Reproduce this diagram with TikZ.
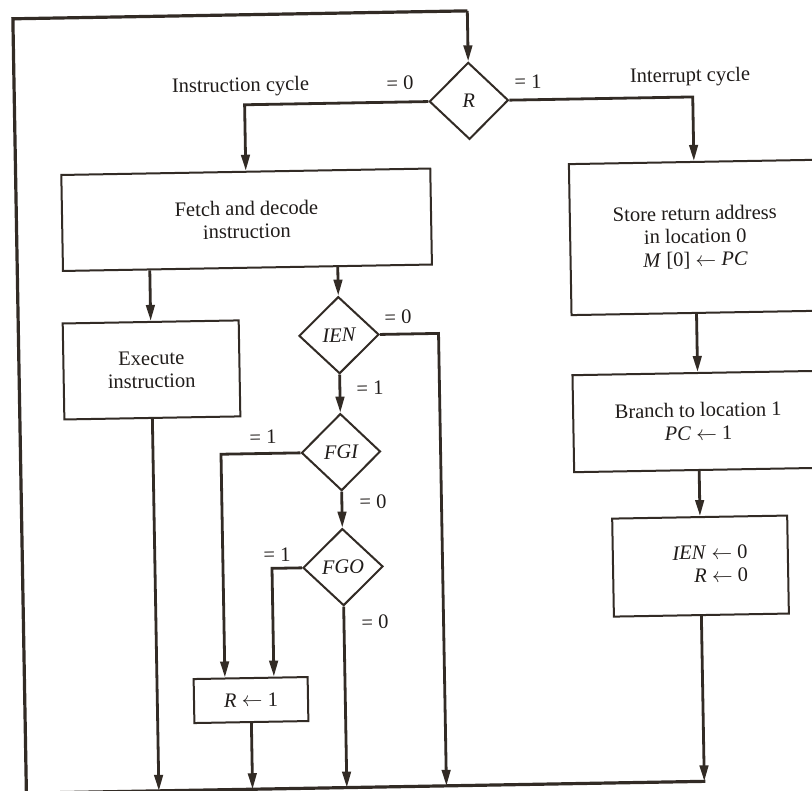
\documentclass[tikz,border=0pt]{standalone}
\usepackage{fontspec}
\setmainfont{Liberation Serif}
\usetikzlibrary{arrows.meta,shapes.geometric,calc}
\definecolor{ink}{RGB}{50,43,37}
\definecolor{txt}{RGB}{32,28,26}
\newcommand{\getsarrow}{\ensuremath{\leftarrow}}

\begin{document}
\begin{tikzpicture}[x=1pt,y=-1pt,
  font=\fontsize{20.5}{23}\selectfont,
  box/.style={draw=ink,line width=2pt,rectangle,inner sep=0pt,text=txt,align=center},
  test/.style={draw=ink,line width=2pt,diamond,inner sep=0pt,
    minimum width=79pt,minimum height=77pt,text=txt,font=\fontsize{20.5}{23}\selectfont\itshape},
  flow/.style={draw=ink,line width=2.8pt,-{Triangle[length=16pt,width=8.5pt]}},
  wire/.style={draw=ink,line width=3.2pt},
  lbl/.style={text=txt,inner sep=0pt}]

% page area
\fill[white] (0,0) rectangle (812,791);
\useasboundingbox (0,0) rectangle (812,791);

\begin{scope}[rotate around={1:(406,395)},transform shape]

% decision and process blocks
\node[test] (R)   at (474,102) {R};
\node[box,minimum width=369pt,minimum height=96pt] (fetch) at (249.7,217)
  {Fetch and decode\\instruction};
\node[box,minimum width=176pt,minimum height=96pt] (exec) at (152,365.5)
  {Execute\\instruction};
\node[test,minimum width=80pt] (ien) at (340,334) {IEN};
\node[test] (fgi) at (340,451) {FGI};
\node[test,minimum width=80pt] (fgo) at (340,566) {FGO};
\node[box,minimum width=114pt,minimum height=44pt] (rset) at (245.7,697.3)
  {\textit{R} \getsarrow\ 1};
\node[box,minimum width=250pt,minimum height=151pt] (store) at (697.9,242.5)
  {Store return address\\in location 0\\\textit{M} [0] \getsarrow\ \textit{PC}};
\node[box,minimum width=250pt,minimum height=97pt] (branch) at (697.8,426.6)
  {Branch to location 1\\\textit{PC} \getsarrow\ 1};
\node[box,minimum width=175pt,minimum height=98pt] (clear) at (697.5,571.2) {};
\node[lbl,align=right,anchor=east] (cleartext) at (745,569.5)
  {\textit{IEN} \getsarrow\ 0\\\textit{R} \getsarrow\ 0};

% corners of the return loop
\coordinate (tl) at (19.5,12);
\coordinate (tr) at (474,12);
\coordinate (bl) at (19.5,786.5);
\coordinate (br) at (698.6,786.5);
\coordinate (ienexit) at (439.6,786.5);

% return loop back to the R test
\draw[wire] (br) -- (bl) -- (tl) -- (tr);
\draw[flow] (tr) -- (R.north);

% R = 0 / R = 1 branches
\draw[flow] (R.west) -| (fetch.north);
\draw[flow] (R.east) -| (store.north);

% instruction cycle
\draw[flow] (exec.north |- fetch.south) -- (exec.north);
\draw[flow] (ien.north |- fetch.south) -- (ien.north);
\draw[flow] (exec.south) -- (exec.south |- bl);
\draw[flow] (ien.east) -| (ienexit);
\draw[flow] (ien.south) -- (fgi.north);
\draw[flow] (fgi.west) -| ($(rset.north west)+(32.3,0)$);
\draw[flow] (fgi.south) -- (fgo.north);
\draw[flow] (fgo.west) -| ($(rset.north east)+(-34.7,0)$);
\draw[flow] (fgo.south) -- (fgo.south |- bl);
\draw[flow] (rset.south) -- (rset.south |- bl);

% interrupt cycle
\draw[flow] (store.south) -- (store.south |- branch.north);
\draw[flow] (branch.south) -- (branch.south |- clear.north);
\draw[flow] (clear.south) -- (clear.south |- bl);

% branch labels
\node[lbl] (lcycle) at (246,84) {Instruction cycle};
\node[lbl] (rcycle) at (695.6,82) {Interrupt cycle};
\node[lbl] (r0)  at (405.4,83) {= 0};
\node[lbl] (r1)  at (533.5,84) {= 1};
\node[lbl] (ien0) at (399.4,317) {= 0};
\node[lbl] (ien1) at (370.1,387.4) {= 1};
\node[lbl] (fgi1) at (262.3,434.5) {= 1};
\node[lbl] (fgi0) at (371.1,501.4) {= 0};
\node[lbl] (fgo1) at (274.2,552.7) {= 1};
\node[lbl] (fgo0) at (371,621.5) {= 0};

\end{scope}
\end{tikzpicture}
\end{document}
